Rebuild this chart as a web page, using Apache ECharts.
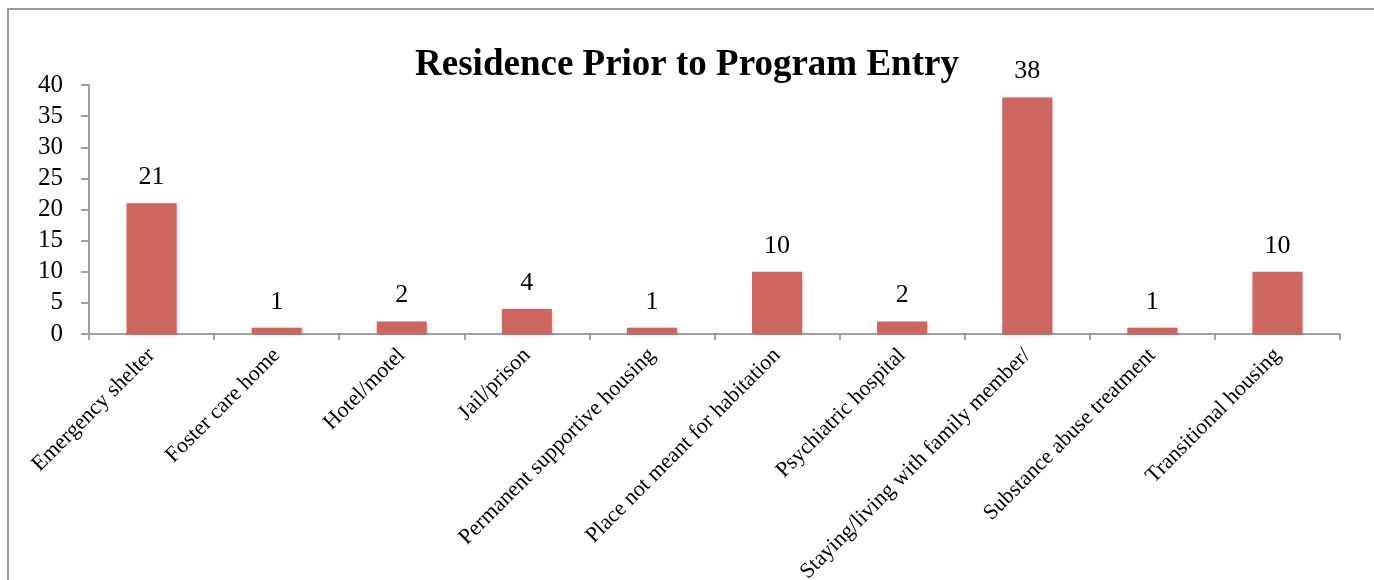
<!DOCTYPE html>
<html>
<head>
<meta charset="utf-8">
<script src="https://cdn.jsdelivr.net/npm/echarts@6/dist/echarts.min.js"></script>
<style>
html,body{margin:0;padding:0;background:#fff;}
#chart{width:1374px;height:580px;}
</style>
</head>
<body>
<div id="chart"></div>
<script>
const categories = [
  "Emergency shelter",
  "Foster care home",
  "Hotel/motel",
  "Jail/prison",
  "Permanent supportive housing",
  "Place not meant for habitation",
  "Psychiatric hospital",
  "Staying/living with family member/",
  "Substance abuse treatment",
  "Transitional housing"
];
const values = [21, 1, 2, 4, 1, 10, 2, 38, 1, 10];
const titleText = "Residence Prior to Program Entry";

const serif = "'Liberation Serif', 'Times New Roman', serif";
const chart = echarts.init(document.getElementById('chart'));
chart.setOption({
  animation: false,
  backgroundColor: '#ffffff',
  graphic: [{
    type: 'rect',
    shape: { x: 8, y: 9, width: 1420, height: 620 },
    style: { fill: 'none', stroke: '#9a9a9a', lineWidth: 2 },
    silent: true
  }],
  title: {
    text: titleText,
    left: 'center',
    top: 42,
    textStyle: { fontFamily: serif, fontWeight: 'bold', fontSize: 37, color: '#000' }
  },
  grid: { left: 89, right: 34, top: 85, bottom: 246, containLabel: false, outerBoundsMode: 'none' },
  xAxis: {
    type: 'category',
    data: categories,
    axisLine: { show: true, lineStyle: { color: '#a0a0a0', width: 2 } },
    axisTick: { show: true, length: 6, lineStyle: { color: '#a0a0a0', width: 2 } },
    axisLabel: {
      rotate: 45,
      interval: 0,
      margin: 18,
      fontFamily: serif,
      fontSize: 22,
      color: '#000'
    }
  },
  yAxis: {
    type: 'value',
    min: 0,
    max: 40,
    interval: 5,
    splitLine: { show: false },
    axisLine: { show: true, lineStyle: { color: '#a0a0a0', width: 2 } },
    axisTick: { show: true, length: 8, lineStyle: { color: '#a0a0a0', width: 2 } },
    axisLabel: { margin: 26, fontFamily: serif, fontSize: 25, color: '#000' }
  },
  series: [{
    type: 'bar',
    data: values,
    barWidth: '40%',
    itemStyle: {
      color: '#cd6660',
      shadowColor: 'rgba(0,0,0,0.25)',
      shadowBlur: 3,
      shadowOffsetX: 1,
      shadowOffsetY: 1
    },
    label: {
      show: true,
      position: 'top',
      distance: 13,
      fontFamily: serif,
      fontSize: 26,
      color: '#000'
    }
  }]
});
</script>
</body>
</html>
